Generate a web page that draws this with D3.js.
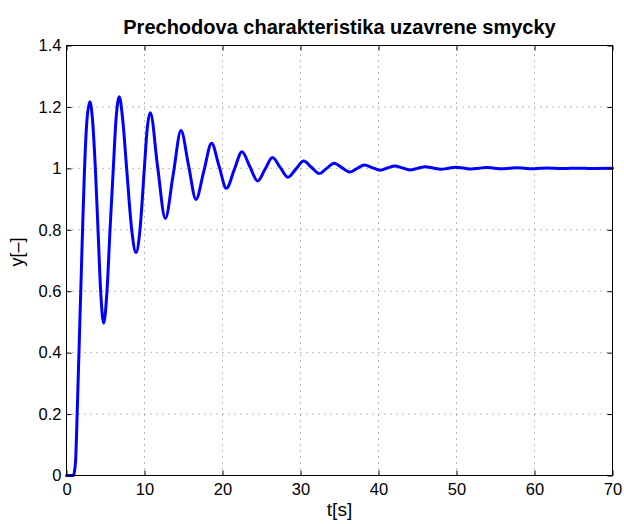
<!DOCTYPE html>
<html>
<head>
<meta charset="utf-8">
<script src="https://cdn.jsdelivr.net/npm/d3@7"></script>
<style>
  html, body { margin: 0; padding: 0; background: #fff; }
  svg { display: block; font-family: "Liberation Sans", Arial, Helvetica, sans-serif; }
</style>
</head>
<body>
<svg id="chart" width="624" height="524"></svg>
<script>
// Closed-loop step response samples: time [s] and output y
const timeS = [
  0, 0.85, 1.0, 1.17, 1.39, 1.62, 1.85, 2.07, 2.3, 2.6, 3.0, 3.36, 3.7, 4.04, 4.38, 4.77,
  5.19, 5.58, 6.0, 6.35, 6.77, 7.2, 7.71, 8.36, 8.91, 9.42, 9.98, 10.35, 10.75, 11.68,
  12.67, 13.68, 14.68, 15.64, 16.6, 17.6, 18.6, 19.55, 20.5, 21.5, 22.5, 23.5, 24.5,
  25.45, 26.4, 27.4, 28.4, 29.4, 30.4, 31.4, 32.4, 33.35, 34.3, 35.3, 36.3, 37.25, 38.2,
  39.2, 40.2, 41.15, 42.1, 43.05, 44.0, 45.0, 46.0, 47.0, 48.0, 49.0, 49.9, 50.9, 51.9,
  52.9, 53.8, 54.8, 55.8, 56.8, 57.7, 58.7, 59.7, 60.7, 61.6, 62.6, 63.6, 64.6, 65.5,
  66.5, 67.5, 70
];
const response = [
  0, 0, 0.01, 0.05, 0.22, 0.42, 0.62, 0.81, 0.99, 1.15, 1.217, 1.15, 1.0, 0.8, 0.6, 0.496,
  0.6, 0.8, 1.0, 1.16, 1.233, 1.16, 1.0, 0.8, 0.726, 0.8, 1.0, 1.13, 1.181, 1.005,
  0.837, 0.98, 1.123, 1.011, 0.899, 0.99, 1.082, 1.008, 0.935, 0.995, 1.054, 1.006, 0.959,
  0.997, 1.035, 1.003, 0.971, 0.9975, 1.024, 1.0035, 0.983, 1.0, 1.017, 1.0025, 0.988, 0.9995, 1.011,
  1.0025, 0.994, 1.001, 1.008, 1.0015, 0.995, 1.0, 1.005, 1.001, 0.997, 1.0005, 1.004, 1.001, 0.998,
  1.0005, 1.003, 1.0007, 0.9985, 1.0003, 1.002, 1.0005, 0.999, 1.0002, 1.001, 1.0002, 0.9993, 1.0, 1.0007,
  1.0, 0.9995, 1.0
];

const xTicks = [0, 10, 20, 30, 40, 50, 60, 70];
const yTicks = [0, 0.2, 0.4, 0.6, 0.8, 1.0, 1.2, 1.4];
const yTickLabels = ["0", "0.2", "0.4", "0.6", "0.8", "1", "1.2", "1.4"];

const titleText = "Prechodova charakteristika uzavrene smycky";
const xLabelText = "t[s]";
const yLabelText = "y[\u2013]";

const svg = d3.select("#chart");
const box = { left: 66.5, right: 612.5, top: 45.5, bottom: 475.5 };

const x = d3.scaleLinear().domain([0, 70]).range([box.left, box.right]);
const y = d3.scaleLinear().domain([0, 1.4]).range([box.bottom, box.top]);

// dotted grid
const grid = svg.append("g").attr("stroke", "#777").attr("stroke-width", 1)
  .attr("stroke-dasharray", "1,5").attr("fill", "none");
xTicks.slice(1, -1).forEach(t => {
  grid.append("line").attr("x1", x(t)).attr("x2", x(t)).attr("y1", box.bottom).attr("y2", box.top);
});
yTicks.slice(1, -1).forEach(t => {
  grid.append("line").attr("x1", box.left).attr("x2", box.right).attr("y1", y(t)).attr("y2", y(t));
});

// response curve
const pts = timeS.map((t, i) => [t, response[i]]);
const line = d3.line().x(d => x(d[0])).y(d => y(d[1])).curve(d3.curveMonotoneX);
svg.append("path").datum(pts).attr("d", line)
  .attr("fill", "none").attr("stroke", "#0000ff").attr("stroke-width", 3)
  .attr("stroke-linejoin", "round").attr("stroke-linecap", "round");

// axes with inward ticks on all four sides
const tickLen = 5;
const bottomAxis = d3.axisBottom(x).tickValues(xTicks).tickSizeInner(-tickLen).tickSizeOuter(0).tickPadding(8);
const topAxis = d3.axisTop(x).tickValues(xTicks).tickSizeInner(-tickLen).tickSizeOuter(0).tickFormat("");
const leftAxis = d3.axisLeft(y).tickValues(yTicks).tickSizeInner(-tickLen).tickSizeOuter(0).tickPadding(5)
  .tickFormat((d, i) => yTickLabels[i]);
const rightAxis = d3.axisRight(y).tickValues(yTicks).tickSizeInner(-tickLen).tickSizeOuter(0).tickFormat("");

function styleAxis(g) {
  g.select(".domain").remove();
  g.selectAll(".tick line").attr("stroke", "#000").attr("stroke-width", 1);
  g.selectAll(".tick text").attr("fill", "#000").style("font-size", "16.5px")
    .style("font-family", "'Liberation Sans', Arial, sans-serif");
}
svg.append("g").attr("transform", `translate(0,${box.bottom})`).call(bottomAxis).call(styleAxis);
svg.append("g").attr("transform", `translate(0,${box.top})`).call(topAxis).call(styleAxis);
svg.append("g").attr("transform", `translate(${box.left},0)`).call(leftAxis).call(styleAxis);
svg.append("g").attr("transform", `translate(${box.right},0)`).call(rightAxis).call(styleAxis);

// frame
svg.append("rect").attr("x", box.left).attr("y", box.top)
  .attr("width", box.right - box.left).attr("height", box.bottom - box.top)
  .attr("fill", "none").attr("stroke", "#000").attr("stroke-width", 1);

// title and axis labels
svg.append("text").attr("x", (box.left + box.right) / 2).attr("y", 34)
  .attr("text-anchor", "middle").style("font-size", "20px").style("font-weight", "bold")
  .text(titleText);
svg.append("text").attr("x", (box.left + box.right) / 2).attr("y", 516)
  .attr("text-anchor", "middle").style("font-size", "19px")
  .text(xLabelText);
svg.append("text").attr("transform", "translate(23,252) rotate(-90)")
  .attr("text-anchor", "middle").style("font-size", "18px")
  .text(yLabelText);
</script>
</body>
</html>
